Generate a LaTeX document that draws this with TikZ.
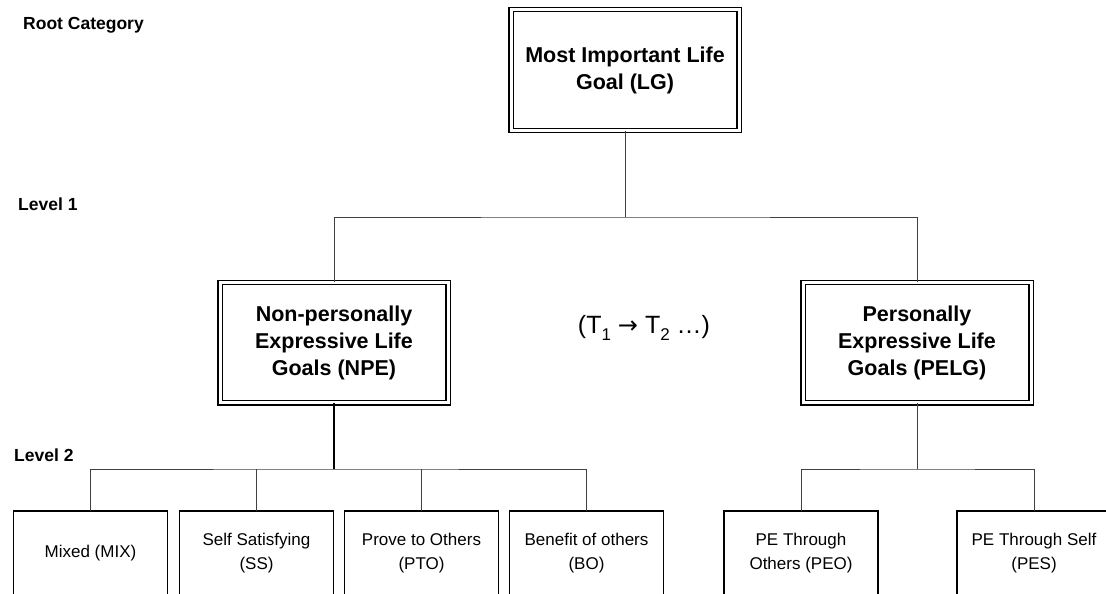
\documentclass[tikz,border=0pt]{standalone}
\usepackage{fontspec}
\setmainfont{Liberation Sans}
\newfontfamily\arrowfont{DejaVu Sans}
\begin{document}
\begin{tikzpicture}[x=1pt,y=-1pt,
  mainbox/.style={draw=black, double=white, double distance=3pt, line width=1.2pt,
    minimum width=228pt, minimum height=120.6pt, inner sep=0pt, align=center,
    font=\fontsize{21.5}{27}\selectfont\bfseries},
  leafbox/.style={draw=black, line width=1.3pt, minimum width=154pt, minimum height=84pt,
    inner sep=0pt, outer sep=0pt, align=center, font=\fontsize{17}{24}\selectfont},
  lvl/.style={anchor=west, inner sep=0pt, font=\fontsize{17.5}{20}\selectfont\bfseries},
  conn/.style={draw=black!75, line width=1pt},
  connb/.style={draw=black, line width=1.6pt}]
\useasboundingbox (0,0) rectangle (1106,594);

\node[lvl] (lroot) at (23,25) {Root Category};
\node[lvl] (lone) at (18,204) {Level 1};
\node[lvl] (ltwo) at (14,455) {Level 2};

\node[mainbox] (top) at (625,70) {Most Important Life\\Goal (LG)};
\node[mainbox] (npe) at (334,342.5) {Non-personally\\Expressive Life\\Goals (NPE)};
\node[mainbox] (pelg) at (917,342.5) {Personally\\Expressive Life\\Goals (PELG)};

\node[inner sep=0pt, font=\fontsize{25}{28}\selectfont] (seq) at (644,328)
  {(T\raisebox{-0.3em}{\fontsize{17}{17}\selectfont 1} {\arrowfont\fontsize{24}{24}\selectfont →} T\raisebox{-0.3em}{\fontsize{17}{17}\selectfont 2} …)};

\node[leafbox] (mix) at (90.5,553) {Mixed (MIX)};
\node[leafbox] (ss) at (256.5,553) {Self Satisfying\\(SS)};
\node[leafbox] (pto) at (421.5,553) {Prove to Others\\(PTO)};
\node[leafbox] (bo) at (586.5,553) {Benefit of others\\(BO)};
\node[leafbox] (peo) at (801,553) {PE Through\\Others (PEO)};
\node[leafbox] (pes) at (1034,553) {PE Through Self\\(PES)};

\coordinate (j1) at (625,217);
\coordinate (j2) at (334,469);
\coordinate (j3) at (917,469);

\draw[conn] (top.south) -- (j1);
\draw[conn] (npe.north) |- (j1) -| (pelg.north);

\draw[connb] (npe.south) -- (j2);
\draw[conn] (mix.north) |- (j2) -| (bo.north);
\draw[conn] (ss.north) -- (ss.north |- j2);
\draw[conn] (pto.north) -- (pto.north |- j2);

\draw[conn] (pelg.south) -- (j3);
\draw[conn] (peo.north) |- (j3) -| (pes.north);
\end{tikzpicture}
\end{document}
